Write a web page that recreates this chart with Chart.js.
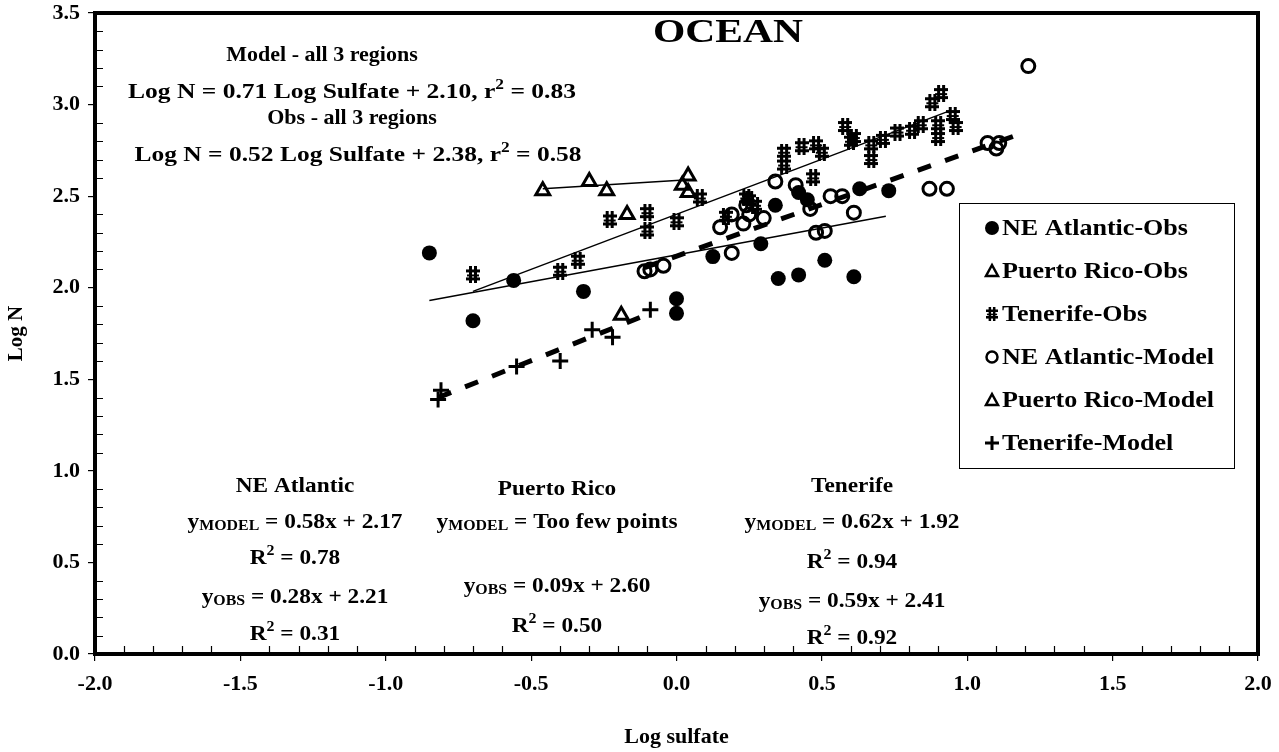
<!DOCTYPE html>
<html lang="en">
<head>
    <meta charset="UTF-8">
    <title>OCEAN - Log N vs Log sulfate</title>
    <script src="https://cdn.jsdelivr.net/npm/chart.js@4.4.1/dist/chart.umd.min.js"></script>
    <style>
        body {
            margin: 0;
            background: #ffffff;
        }
        #wrap {
            width: 1279px;
            height: 752px;
        }
    </style>
</head>
<body>
    <div id="wrap">
        <canvas id="chart" width="1279" height="752"></canvas>
    </div>

    <script>
        // Points
        const neAtlObsX = [-0.85, -0.70, -0.56, -0.32, 0.00, 0.00, 0.125, 0.29, 0.34, 0.35, 0.42, 0.42, 0.45, 0.51, 0.61, 0.63, 0.73];
        const neAtlObsY = [2.19, 1.82, 2.04, 1.98, 1.94, 1.86, 2.17, 2.24, 2.45, 2.05, 2.07, 2.52, 2.48, 2.15, 2.06, 2.54, 2.53];

        const prObsX = [-0.46, -0.30, -0.24, -0.17, 0.02, 0.04, 0.04];
        const prObsY = [2.53, 2.58, 2.53, 2.40, 2.56, 2.61, 2.52];

        const tenObsX = [-0.70, -0.40, -0.34, -0.23, -0.10, -0.10, 0.00, 0.08, 0.17, 0.24, 0.25, 0.27, 0.37, 0.37, 0.43, 0.47, 0.48, 0.50, 0.58, 0.60, 0.61, 0.67, 0.67, 0.71, 0.76, 0.81, 0.84, 0.88, 0.90, 0.90, 0.91, 0.95, 0.96];
        const tenObsY = [2.07, 2.09, 2.15, 2.37, 2.41, 2.31, 2.36, 2.49, 2.39, 2.49, 2.48, 2.45, 2.74, 2.67, 2.77, 2.60, 2.78, 2.74, 2.88, 2.80, 2.82, 2.78, 2.70, 2.81, 2.85, 2.86, 2.89, 3.01, 2.89, 2.82, 3.06, 2.94, 2.88];

        const neAtlModX = [-0.11, -0.09, -0.045, 0.15, 0.19, 0.19, 0.23, 0.24, 0.25, 0.30, 0.34, 0.41, 0.46, 0.48, 0.51, 0.53, 0.57, 0.61, 0.87, 0.93, 1.07, 1.10, 1.11, 1.21];
        const neAtlModY = [2.09, 2.10, 2.12, 2.33, 2.19, 2.40, 2.35, 2.45, 2.40, 2.38, 2.58, 2.56, 2.43, 2.30, 2.31, 2.50, 2.50, 2.41, 2.54, 2.54, 2.79, 2.76, 2.79, 3.21];

        const prModX = [-0.19];
        const prModY = [1.85];

        const tenModX = [-0.81, -0.82, -0.55, -0.40, -0.29, -0.22, -0.09];
        const tenModY = [1.44, 1.39, 1.57, 1.60, 1.77, 1.73, 1.88];

        // trend line end points
        const neAtlObsFitX = [-0.85, 0.72];
        const neAtlObsFitY = [1.93, 2.39];
        const tenObsFitX = [-0.70, 0.93];
        const tenObsFitY = [1.98, 2.96];
        const prObsFitX = [-0.46, 0.04];
        const prObsFitY = [2.54, 2.59];
        const tenModFitX = [-0.82, -0.09];
        const tenModFitY = [1.40, 1.86];
        const neAtlModFitX = [-0.11, 1.20];
        const neAtlModFitY = [2.11, 2.85];

        const legendLabels = ['NE Atlantic-Obs', 'Puerto Rico-Obs', 'Tenerife-Obs', 'NE Atlantic-Model', 'Puerto Rico-Model', 'Tenerife-Model'];

        const serif = '"Liberation Serif", "Times New Roman", serif';

        function pts(xs, ys) {
            return xs.map((x, i) => ({ x: x, y: ys[i] }));
        }

        // the speckled "#" marker used for Tenerife-Obs
        function makeHash() {
            const c = document.createElement('canvas');
            c.width = 14;
            c.height = 17;
            const g = c.getContext('2d');
            g.fillStyle = '#000';
            g.fillRect(3, 0, 3, 17);
            g.fillRect(8, 0, 3, 17);
            g.fillRect(0, 3, 14, 3);
            g.fillRect(1, 8, 12, 2);
            g.fillRect(0, 11, 14, 3);
            return c;
        }
        const hash = makeHash();

        function markers(label, data, style) {
            return Object.assign({
                label: label,
                data: data,
                order: 1,
                showLine: false,
                borderColor: '#000',
                backgroundColor: 'rgba(0,0,0,0)',
                pointBorderWidth: 3,
                pointRadius: 7,
                pointHoverRadius: 7
            }, style);
        }

        function fitLine(xs, ys, width, dash) {
            return {
                label: '',
                data: pts(xs, ys),
                order: 5,
                showLine: true,
                borderColor: '#000',
                borderWidth: width,
                borderDash: dash,
                pointRadius: 0,
                pointHoverRadius: 0
            };
        }

        // one line of text made of pieces (normal, subscript, superscript),
        // stretched sideways by sx or to a given width
        function richText(ctx, parts, cx, cy, size, sx, width) {
            const pieceFont = p => 'bold ' + (p[1] === 'n' ? size : Math.round(size * 0.66)) + 'px ' + serif;
            let w = 0;
            parts.forEach(p => { ctx.font = pieceFont(p); w += ctx.measureText(p[0]).width; });
            if (width) sx = width / w;
            ctx.save();
            ctx.translate(cx, cy);
            ctx.scale(sx, 1);
            let x = -w / 2;
            ctx.textAlign = 'left';
            ctx.textBaseline = 'middle';
            parts.forEach(p => {
                ctx.font = pieceFont(p);
                let dy = 0;
                if (p[1] === 'sub') dy = size * 0.2;
                if (p[1] === 'sup') dy = -size * 0.32;
                ctx.fillText(p[0], x, dy);
                x += ctx.measureText(p[0]).width;
            });
            ctx.restore();
        }

        const headNotes = [
            { x: 322, y: 55, w: 0, parts: [['Model - all 3 regions', 'n']] },
            { x: 352, y: 92, w: 448, parts: [['Log N = 0.71 Log Sulfate + 2.10, r', 'n'], ['2', 'sup'], [' = 0.83', 'n']] },
            { x: 352, y: 118, w: 0, parts: [['Obs - all 3 regions', 'n']] },
            { x: 358, y: 155, w: 447, parts: [['Log N = 0.52 Log Sulfate + 2.38, r', 'n'], ['2', 'sup'], [' = 0.58', 'n']] }
        ];

        const regionNotes = [
            { x: 295, y: 486, parts: [['NE Atlantic', 'n']] },
            { x: 295, y: 522, parts: [['y', 'n'], ['MODEL', 'sub'], [' = 0.58x + 2.17', 'n']] },
            { x: 295, y: 558, parts: [['R', 'n'], ['2', 'sup'], [' = 0.78', 'n']] },
            { x: 295, y: 597, parts: [['y', 'n'], ['OBS', 'sub'], [' = 0.28x + 2.21', 'n']] },
            { x: 295, y: 634, parts: [['R', 'n'], ['2', 'sup'], [' = 0.31', 'n']] },

            { x: 557, y: 489, parts: [['Puerto Rico', 'n']] },
            { x: 557, y: 522, parts: [['y', 'n'], ['MODEL', 'sub'], [' = Too few points', 'n']] },
            { x: 557, y: 586, parts: [['y', 'n'], ['OBS', 'sub'], [' = 0.09x + 2.60', 'n']] },
            { x: 557, y: 626, parts: [['R', 'n'], ['2', 'sup'], [' = 0.50', 'n']] },

            { x: 852, y: 486, parts: [['Tenerife', 'n']] },
            { x: 852, y: 522, parts: [['y', 'n'], ['MODEL', 'sub'], [' = 0.62x + 1.92', 'n']] },
            { x: 852, y: 562, parts: [['R', 'n'], ['2', 'sup'], [' = 0.94', 'n']] },
            { x: 852, y: 601, parts: [['y', 'n'], ['OBS', 'sub'], [' = 0.59x + 2.41', 'n']] },
            { x: 852, y: 638, parts: [['R', 'n'], ['2', 'sup'], [' = 0.92', 'n']] }
        ];

        function drawMarker(ctx, kind, x, y) {
            ctx.save();
            ctx.strokeStyle = '#000';
            ctx.fillStyle = '#000';
            ctx.lineWidth = 2.5;
            if (kind === 'dot') {
                ctx.beginPath();
                ctx.arc(x, y, 7, 0, Math.PI * 2);
                ctx.fill();
            } else if (kind === 'ring') {
                ctx.beginPath();
                ctx.arc(x, y, 5.5, 0, Math.PI * 2);
                ctx.stroke();
            } else if (kind === 'tri') {
                ctx.beginPath();
                ctx.moveTo(x, y - 6);
                ctx.lineTo(x + 6, y + 5);
                ctx.lineTo(x - 6, y + 5);
                ctx.closePath();
                ctx.stroke();
            } else if (kind === 'hash') {
                ctx.drawImage(hash, x - 6, y - 7, 12, 14);
            } else if (kind === 'plus') {
                ctx.lineWidth = 3;
                ctx.beginPath();
                ctx.moveTo(x - 7, y); ctx.lineTo(x + 7, y);
                ctx.moveTo(x, y - 7); ctx.lineTo(x, y + 7);
                ctx.stroke();
            }
            ctx.restore();
        }

        const overlay = {
            id: 'overlay',
            afterDraw(chart) {
                const ctx = chart.ctx;
                const a = chart.chartArea;
                const xs = chart.scales.x;
                const ys = chart.scales.y;
                ctx.save();

                // frame
                ctx.strokeStyle = '#000';
                ctx.lineWidth = 4;
                ctx.strokeRect(a.left, a.top, a.right - a.left, a.bottom - a.top);

                // minor ticks on the inside
                ctx.lineWidth = 1.2;
                ctx.beginPath();
                for (let i = 1; i < 35; i++) {
                    if (i % 5 === 0) continue;
                    const py = Math.round(ys.getPixelForValue(i / 10)) + 0.5;
                    ctx.moveTo(a.left, py);
                    ctx.lineTo(a.left + 8, py);
                }
                for (let i = -19; i < 20; i++) {
                    if (i % 5 === 0) continue;
                    const px = Math.round(xs.getPixelForValue(i / 10)) + 0.5;
                    ctx.moveTo(px, a.bottom);
                    ctx.lineTo(px, a.bottom - 8);
                }
                ctx.stroke();

                // title and notes
                ctx.fillStyle = '#000';
                richText(ctx, [['OCEAN', 'n']], 728, 33, 33, 1, 150);
                headNotes.forEach(t => richText(ctx, t.parts, t.x, t.y, 22, 1, t.w));
                regionNotes.forEach(t => richText(ctx, t.parts, t.x, t.y, 22, 1.06));

                // legend box
                const lx = 959, ly = 203, lw = 275, lh = 265;
                ctx.fillStyle = '#fff';
                ctx.fillRect(lx, ly, lw, lh);
                ctx.strokeStyle = '#000';
                ctx.lineWidth = 1;
                ctx.strokeRect(lx + 0.5, ly + 0.5, lw, lh);
                const kinds = ['dot', 'tri', 'hash', 'ring', 'tri', 'plus'];
                ctx.font = 'bold 24px ' + serif;
                const lsx = 212 / ctx.measureText('NE Atlantic-Model').width;
                legendLabels.forEach((lab, i) => {
                    const cy = ly + 25 + i * 43;
                    drawMarker(ctx, kinds[i], lx + 33, cy);
                    ctx.save();
                    ctx.fillStyle = '#000';
                    ctx.font = 'bold 24px ' + serif;
                    ctx.textAlign = 'left';
                    ctx.textBaseline = 'middle';
                    ctx.translate(lx + 43, cy + 1);
                    ctx.scale(lsx, 1);
                    ctx.fillText(lab, 0, 0);
                    ctx.restore();
                });
                ctx.restore();
            }
        };

        const tickFont = { family: serif, size: 22, weight: 'bold' };

        new Chart(document.getElementById('chart'), {
            type: 'scatter',
            data: {
                datasets: [
                    markers(legendLabels[0], pts(neAtlObsX, neAtlObsY), { pointStyle: 'circle', backgroundColor: '#000', pointRadius: 7.5, pointBorderWidth: 0 }),
                    markers(legendLabels[1], pts(prObsX, prObsY), { pointStyle: 'triangle', pointRadius: 8 }),
                    markers(legendLabels[2], pts(tenObsX, tenObsY), { pointStyle: hash }),
                    markers(legendLabels[3], pts(neAtlModX, neAtlModY), { pointStyle: 'circle', pointRadius: 6.5 }),
                    markers(legendLabels[4], pts(prModX, prModY), { pointStyle: 'triangle', pointRadius: 8 }),
                    markers(legendLabels[5], pts(tenModX, tenModY), { pointStyle: 'cross', pointRadius: 8 }),
                    fitLine(neAtlObsFitX, neAtlObsFitY, 1.5, []),
                    fitLine(tenObsFitX, tenObsFitY, 1.5, []),
                    fitLine(prObsFitX, prObsFitY, 1.5, []),
                    fitLine(tenModFitX, tenModFitY, 5, [14, 15]),
                    fitLine(neAtlModFitX, neAtlModFitY, 5, [14, 15])
                ]
            },
            options: {
                responsive: false,
                animation: false,
                events: [],
                layout: {
                    padding: { top: 13, right: 21, left: 0, bottom: 0 }
                },
                plugins: {
                    legend: { display: false },
                    tooltip: { enabled: false }
                },
                scales: {
                    x: {
                        type: 'linear',
                        min: -2,
                        max: 2,
                        afterFit: s => {
                            s.height = 98;
                            s.paddingLeft = 0;
                            s.paddingRight = 0;
                        },
                        ticks: {
                            stepSize: 0.5,
                            color: '#000',
                            font: tickFont,
                            padding: 10,
                            maxRotation: 0,
                            callback: v => v.toFixed(1)
                        },
                        grid: { drawOnChartArea: false, drawTicks: true, tickLength: 7, color: '#000', lineWidth: 1.2 },
                        border: { display: true, color: '#000', width: 4 },
                        title: {
                            display: true,
                            text: 'Log sulfate',
                            color: '#000',
                            font: { family: serif, size: 22, weight: 'bold' },
                            padding: { top: 0, bottom: 1 }
                        }
                    },
                    y: {
                        type: 'linear',
                        min: 0,
                        max: 3.5,
                        afterFit: s => {
                            s.width = 95;
                            s.paddingTop = 0;
                            s.paddingBottom = 0;
                        },
                        ticks: {
                            stepSize: 0.5,
                            color: '#000',
                            font: tickFont,
                            padding: 8,
                            callback: v => v.toFixed(1)
                        },
                        grid: { drawOnChartArea: false, drawTicks: true, tickLength: 7, color: '#000', lineWidth: 1.2 },
                        border: { display: true, color: '#000', width: 4 },
                        title: {
                            display: true,
                            text: 'Log N',
                            color: '#000',
                            font: { family: serif, size: 21, weight: 'bold' },
                            padding: { top: 4, bottom: 0 }
                        }
                    }
                }
            },
            plugins: [overlay]
        });
    </script>
</body>
</html>
